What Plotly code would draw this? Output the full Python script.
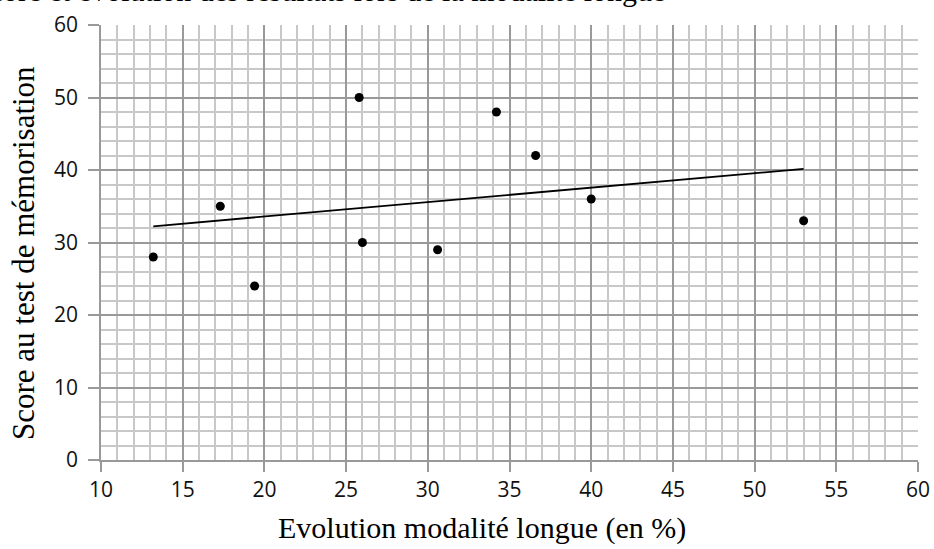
import numpy as np
import plotly.graph_objects as go

evolution = [13.2, 17.3, 19.4, 25.8, 26.0, 30.6, 34.2, 36.6, 40.0, 53.0]
score = [28, 35, 24, 50, 30, 29, 48, 42, 36, 33]

x_ticks = [10, 15, 20, 25, 30, 35, 40, 45, 50, 55, 60]
y_ticks = [0, 10, 20, 30, 40, 50, 60]

slope, intercept = np.polyfit(evolution, score, 1)
x_fit = [min(evolution), max(evolution)]
y_fit = [slope * v + intercept for v in x_fit]

fig = go.Figure()
fig.add_trace(go.Scatter(x=x_fit, y=y_fit, mode="lines",
                         line=dict(color="black", width=1.8), hoverinfo="skip"))
fig.add_trace(go.Scatter(x=evolution, y=score, mode="markers",
                         marker=dict(color="black", size=9)))

tick_font = dict(family="Open Sans, Lato, sans-serif", size=21, color="#111111")
major_col = "#999999"
minor_col = "#c8c8c8"

fig.update_layout(
    width=934, height=549,
    margin=dict(l=101, r=16, t=25, b=89),
    paper_bgcolor="white", plot_bgcolor="white",
    showlegend=False,
    xaxis=dict(range=[10, 60], tickmode="array", tickvals=x_ticks,
               ticktext=[str(v) for v in x_ticks], tickfont=tick_font,
               showgrid=True, gridcolor=major_col, gridwidth=1.5,
               minor=dict(dtick=1, showgrid=True, gridcolor=minor_col, gridwidth=1.5,
                          ticks=""),
               showline=True, linecolor=major_col, linewidth=1.5,
               ticks="outside", ticklen=10, tickcolor=major_col, tickwidth=1.5,
               zeroline=False, fixedrange=True, automargin=False),
    yaxis=dict(range=[0, 60], tickmode="array", tickvals=y_ticks,
               ticktext=[str(v) for v in y_ticks], tickfont=tick_font,
               showgrid=True, gridcolor=major_col, gridwidth=1.5,
               minor=dict(dtick=2, showgrid=True, gridcolor=minor_col, gridwidth=1.5,
                          ticks=""),
               showline=True, linecolor=major_col, linewidth=1.5,
               ticks="outside", ticklen=11, tickcolor=major_col, tickwidth=1.5,
               ticklabelstandoff=6,
               zeroline=False, fixedrange=True, automargin=False),
)

serif_x = dict(family="Liberation Serif, Times New Roman, serif", size=30, color="black")
serif_y = dict(family="Liberation Serif, Times New Roman, serif", size=31, color="black")

fig.add_annotation(text="Evolution modalité longue (en %)", xref="paper", yref="paper",
                   x=(481.5 - 101) / (934 - 101 - 16), y=0, yshift=-68,
                   xanchor="center", yanchor="middle", showarrow=False, font=serif_x)
fig.add_annotation(text="Score au test de mémorisation", xref="paper", yref="paper",
                   x=0, xshift=-77, y=(460 - 253) / 435, textangle=-90,
                   xanchor="center", yanchor="middle", showarrow=False, font=serif_y)
fig.add_annotation(text="Score et évolution des résultats lors de la modalité longue",
                   xref="paper", yref="paper", x=(667 - 101) / 817, y=1, yshift=35,
                   xanchor="right", yanchor="middle", showarrow=False, font=serif_x)

fig.write_html("out.html", config={"displayModeBar": False},
               post_script="document.body.style.margin='0';document.body.style.overflow='hidden';")
